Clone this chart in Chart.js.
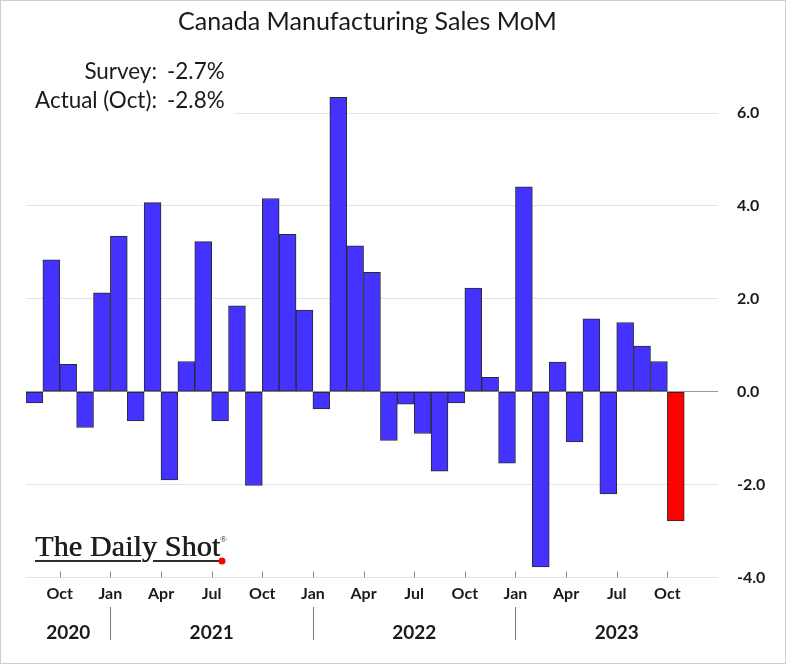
<!DOCTYPE html>
<html>
<head>
<meta charset="utf-8">
<script src="https://cdn.jsdelivr.net/npm/chart.js@4/dist/chart.umd.min.js"></script>
<style>
html,body{margin:0;padding:0;background:#ffffff;}
canvas{display:block;}
</style>
</head>
<body>
<canvas id="c" width="786" height="664"></canvas>
<script>
// ---- data ----
const months = [
  '2020-08','2020-09','2020-10','2020-11','2020-12',
  '2021-01','2021-02','2021-03','2021-04','2021-05','2021-06','2021-07','2021-08','2021-09','2021-10','2021-11','2021-12',
  '2022-01','2022-02','2022-03','2022-04','2022-05','2022-06','2022-07','2022-08','2022-09','2022-10','2022-11','2022-12',
  '2023-01','2023-02','2023-03','2023-04','2023-05','2023-06','2023-07','2023-08','2023-09','2023-10','2023-11','2023-12'
];
const values = [
  -0.24, 2.84, 0.59, -0.77, 2.13,
  3.35, -0.63, 4.07, -1.90, 0.65, 3.23, -0.63, 1.85, -2.02, 4.16, 3.39, 1.76,
  -0.37, 6.34, 3.14, 2.57, -1.05, -0.27, -0.90, -1.71, -0.24, 2.23, 0.31, -1.54,
  4.41, -3.77, 0.64, -1.08, 1.57, -2.20, 1.49, 0.98, 0.65, -2.78
];
const quarterNames = {'01':'Jan','04':'Apr','07':'Jul','10':'Oct'};
const years = ['2020','2021','2022','2023'];
const yTicks = [-4, -2, 0, 2, 4, 6];
const titleText = 'Canada Manufacturing Sales MoM';
const surveyLabel = 'Survey:';
const surveyValue = '-2.7%';
const actualLabel = 'Actual (Oct):';
const actualValue = '-2.8%';
const logoText = 'The Daily Shot';

// ---- build ----
const barData = values.map((v, i) => ({x: i + 0.5, y: v}));
const lastIdx = values.length - 1;
const quarterIdx = months.map((m, i) => quarterNames[m.slice(5)] ? i : -1).filter(i => i >= 0);

const FONT = 'Lato, "Open Sans", "Liberation Sans", sans-serif';

function fitFont(ctx, text, family, weight, targetW) {
  ctx.font = weight + ' 100px ' + family;
  const w = ctx.measureText(text).width;
  return 100 * targetW / w;
}

const overlay = {
  id: 'overlay',
  afterDraw(chart) {
    const ctx = chart.ctx;
    const xs = chart.scales.x, ys = chart.scales.y;
    ctx.save();

    // tick marks (inside, upward)
    const yb = ys.getPixelForValue(-4);
    ctx.strokeStyle = '#8a8a8a';
    ctx.lineWidth = 1;
    quarterIdx.forEach(i => {
      const px = Math.round(xs.getPixelForValue(i)) + 0.5;
      ctx.beginPath(); ctx.moveTo(px, yb - 6); ctx.lineTo(px, yb); ctx.stroke();
    });

    // year labels and separators
    ctx.fillStyle = '#1a1a1a';
    ctx.font = 'bold 19px ' + FONT;
    ctx.textAlign = 'center';
    ctx.textBaseline = 'middle';
    years.forEach((yr, k) => {
      const s = months.findIndex(m => m.startsWith(yr));
      let e = s; while (e < months.length && months[e].startsWith(yr)) e++;
      const xc = (xs.getPixelForValue(s) + xs.getPixelForValue(e)) / 2;
      ctx.fillText(yr, xc, 633);
      if (k > 0) {
        const px = Math.round(xs.getPixelForValue(s)) + 0.5;
        ctx.strokeStyle = '#7a7a7a';
        ctx.beginPath(); ctx.moveTo(px, 607); ctx.lineTo(px, 640); ctx.stroke();
      }
    });

    // title
    ctx.fillStyle = '#1a1a1a';
    let fs = fitFont(ctx, titleText, FONT, 'normal', 379);
    ctx.font = 'normal ' + fs + 'px ' + FONT;
    ctx.textAlign = 'left';
    ctx.textBaseline = 'middle';
    ctx.fillText(titleText, 178, 22);

    // annotation box
    ctx.fillStyle = '#ffffff';
    ctx.fillRect(20, 55, 215, 63);
    ctx.fillStyle = '#1a1a1a';
    fs = fitFont(ctx, actualLabel, FONT, 'normal', 122);
    ctx.font = 'normal ' + fs + 'px ' + FONT;
    ctx.textAlign = 'right';
    ctx.fillText(surveyLabel, 157, 72);
    ctx.fillText(actualLabel, 157, 101);
    ctx.textAlign = 'left';
    ctx.fillText(surveyValue, 167, 72);
    ctx.fillText(actualValue, 167, 101);

    // logo
    const serif = '"Liberation Serif", "DejaVu Serif", serif';
    ctx.font = 'normal 30px ' + serif;
    const natural = ctx.measureText(logoText).width;
    const sp = (185 - natural) / (logoText.length - 1);
    ctx.letterSpacing = sp.toFixed(2) + 'px';
    ctx.fillStyle = '#1e1e1e';
    ctx.textBaseline = 'alphabetic';
    ctx.fillText(logoText, 35, 556);
    ctx.fillText(logoText, 35.6, 556);
    ctx.letterSpacing = '0px';
    ctx.font = 'normal 9px ' + serif;
    ctx.fillText('\u00AE', 220, 542);
    ctx.strokeStyle = '#2e2e2e';
    ctx.lineWidth = 2;
    ctx.beginPath(); ctx.moveTo(35, 561); ctx.lineTo(141, 561); ctx.stroke();
    ctx.beginPath(); ctx.moveTo(153, 561); ctx.lineTo(220, 561); ctx.stroke();
    ctx.fillStyle = '#ff0000';
    ctx.beginPath(); ctx.arc(222, 561, 3.5, 0, Math.PI * 2); ctx.fill();

    // frame
    ctx.strokeStyle = '#cfcfcf';
    ctx.lineWidth = 1;
    ctx.strokeRect(0.5, 0.5, 785, 663);
    ctx.restore();
  }
};

new Chart(document.getElementById('c'), {
  type: 'bar',
  data: {
    datasets: [{
      data: barData,
      backgroundColor: ctx => ctx.dataIndex === lastIdx ? '#ff0000' : '#4433ff',
      borderColor: '#2b2b2b',
      borderWidth: 1,
      borderSkipped: false,
      barPercentage: 1,
      categoryPercentage: 1
    }]
  },
  options: {
    responsive: false,
    devicePixelRatio: 1,
    animation: false,
    layout: {padding: {left: 26, top: 66.6, right: 0, bottom: 0}},
    plugins: {legend: {display: false}, tooltip: {enabled: false}, title: {display: false}},
    scales: {
      x: {
        type: 'linear',
        offset: false,
        min: 0,
        max: months.length,
        grid: {display: false, drawTicks: false, offset: false},
        border: {display: false},
        afterBuildTicks: s => { s.ticks = quarterIdx.map(i => ({value: i})); },
        afterFit: s => { s.height = 86.5; },
        ticks: {
          autoSkip: false,
          maxRotation: 0,
          padding: 7,
          color: '#1a1a1a',
          font: {family: FONT, size: 16, weight: 'bold'},
          callback: v => quarterNames[months[v].slice(5)]
        }
      },
      y: {
        position: 'right',
        min: -4,
        max: 7,
        afterBuildTicks: s => { s.ticks = yTicks.map(v => ({value: v})); },
        afterFit: s => { s.width = 68; },
        grid: {
          drawTicks: false,
          color: c => c.tick && c.tick.value === 0 ? '#9a9a9a' : '#e4e4e4',
          lineWidth: 1
        },
        border: {display: false},
        ticks: {
          padding: 19,
          color: '#1a1a1a',
          font: {family: FONT, size: 16, weight: 'bold'},
          callback: v => Number(v).toFixed(1)
        }
      }
    }
  },
  plugins: [overlay]
});
</script>
</body>
</html>
